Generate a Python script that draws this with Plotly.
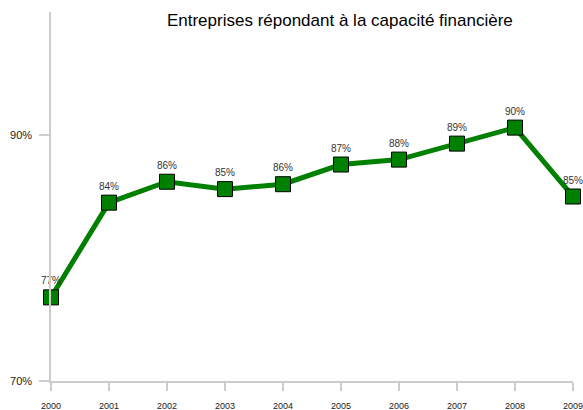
import plotly.graph_objects as go

years = [2000, 2001, 2002, 2003, 2004, 2005, 2006, 2007, 2008, 2009]
values = [76.8, 84.5, 86.2, 85.6, 86.0, 87.6, 88.0, 89.3, 90.6, 85.0]
labels = ["77%", "84%", "86%", "85%", "86%", "87%", "88%", "89%", "90%", "85%"]

fig = go.Figure()
# line and markers in separate traces so the markers can overflow the plot edge
fig.add_trace(go.Scatter(
    x=years, y=values, mode="lines",
    line=dict(color="#008000", width=5),
    cliponaxis=False, showlegend=False, hoverinfo="skip"))
fig.add_trace(go.Scatter(
    x=years, y=values, mode="markers+text",
    text=labels, textposition="top center",
    textfont=dict(family="Liberation Sans, Arial", size=10, color="#333"),
    marker=dict(symbol="square", size=15, color="#008000",
                line=dict(color="#000", width=1)),
    cliponaxis=False, showlegend=False))

fig.update_layout(
    width=583, height=410,
    margin=dict(l=51, r=10, t=12, b=29, autoexpand=False),
    paper_bgcolor="white", plot_bgcolor="white",
    font=dict(family="Liberation Sans, Arial", color="#222"),
    title=dict(text="Entreprises répondant à la capacité financière",
               x=0.583, xanchor="center", y=0.95, yanchor="middle",
               font=dict(size=17, color="#000")))

fig.update_xaxes(
    range=[2000, 2009], tickvals=years, ticktext=[str(y) for y in years],
    showgrid=False, zeroline=False, showline=True, linecolor="#ccc", linewidth=1.5,
    ticks="outside", ticklen=8, tickcolor="#ccc", tickwidth=1.5, automargin=False,
    ticklabeloverflow="allow",
    ticklabelstandoff=7, tickfont=dict(size=9, color="#222"))
fig.update_yaxes(
    range=[70, 100], tickvals=[70, 90], ticktext=["70%", "90%"],
    showgrid=False, zeroline=False, showline=True, linecolor="#ccc", linewidth=1.5,
    ticks="outside", ticklen=10, tickcolor="#ccc", tickwidth=1.5, automargin=False,
    ticklabelstandoff=5, tickfont=dict(size=11, color="#222"))

# drop the browser's default body margin so the figure sits at the page corner
fig.write_html("out.html", config={"displayModeBar": False},
               post_script="document.body.style.margin='0';")
